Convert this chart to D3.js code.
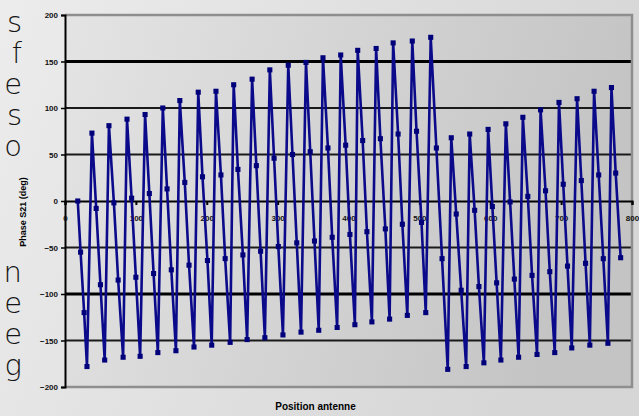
<!DOCTYPE html>
<html>
<head>
<meta charset="utf-8">
<script src="https://cdn.jsdelivr.net/npm/d3@7"></script>
<style>
  html, body { margin: 0; padding: 0; background: #e6e6e6; }
  svg { display: block; }
</style>
</head>
<body>
<div id="chart"></div>
<script>
// antenna position vs measured phase
const positions = [18, 22, 27, 31,
  38, 44, 50, 56,
  62, 69, 75, 82,
  87.5, 94, 100, 106,
  113, 119, 125, 131,
  138, 144, 150, 156.5,
  162, 169, 175, 182,
  188, 194, 201, 207,
  213, 220, 226, 233,
  238, 244, 251, 257,
  264, 270, 276, 282,
  289, 295, 301, 307.5,
  315, 321, 327, 333,
  340, 346, 352, 358,
  364, 371, 377, 384,
  389, 396, 402, 409,
  413, 420, 426, 433,
  439, 445, 452, 458,
  463, 470, 476, 483,
  490, 496, 503, 509,
  516, 524, 532, 540,
  545, 552, 559, 566,
  571, 578, 584, 591,
  597, 603, 609, 615,
  622, 628, 634, 640,
  646, 653, 659, 666,
  671, 678, 684, 691,
  697, 703, 709, 715,
  722.5, 728.5, 734.5, 740.5,
  746.5, 753, 759.5, 766,
  771, 777, 784];

const phases = [0, -55, -120, -178,
  73, -8, -90, -171,
  81, -2, -85, -168,
  88, 3, -82, -167,
  93, 8, -78, -163,
  100, 13, -74, -161,
  108, 20, -69, -157,
  117, 26, -64, -155,
  118, 28, -62, -152,
  125, 34, -58, -149,
  131, 38, -54, -147,
  141, 46, -49, -144,
  146, 50, -45, -141,
  149, 53, -43, -139,
  154, 57, -39, -136,
  157, 60, -36, -133,
  162, 65, -33, -130,
  164, 67, -30, -127,
  170, 72, -25, -123,
  172, 75, -23, -120,
  176, 57, -62, -181,
  68, -14, -96, -178,
  72, -10, -92, -174,
  77, -6, -88, -171,
  83, -1, -84, -168,
  90, 5, -80, -165,
  98, 11, -76, -163,
  106, 18, -70, -158,
  110, 22, -67, -155,
  118, 28, -62, -153,
  122, 30, -61];

const xTicks = [0, 100, 200, 300, 400, 500, 600, 700, 800];
const yTicks = [-200, -150, -100, -50, 0, 50, 100, 150, 200];

// ends of the slide text lines showing on the left
const sideLettersTop = ['s', 'f', 'e', 's', 'o'];
const sideLettersBottom = ['n', 'e', 'e', 'g'];

const svgWidth = 639, svgHeight = 416;
const margin = { top: 15, right: 7, bottom: 29, left: 65 };
const width = svgWidth - margin.left - margin.right,
  height = svgHeight - margin.top - margin.bottom;

const svg = d3.select('#chart').append('svg')
  .attr('width', svgWidth)
  .attr('height', svgHeight);

const defs = svg.append('defs');
const bgGrad = defs.append('linearGradient').attr('id', 'bgGrad')
  .attr('x1', '0%').attr('x2', '100%').attr('y1', '0%').attr('y2', '30%');
bgGrad.append('stop').attr('offset', '0%').attr('stop-color', '#ececec');
bgGrad.append('stop').attr('offset', '100%').attr('stop-color', '#d6d6d6');

const plotGrad = defs.append('linearGradient').attr('id', 'plotGrad')
  .attr('x1', '0%').attr('x2', '100%').attr('y1', '0%').attr('y2', '20%');
plotGrad.append('stop').attr('offset', '0%').attr('stop-color', '#e4e4e4');
plotGrad.append('stop').attr('offset', '100%').attr('stop-color', '#c4c4c4');

svg.append('rect')
  .attr('width', svgWidth)
  .attr('height', svgHeight)
  .attr('fill', 'url(#bgGrad)');

// side text, one text block per group
function sideBlock(letters, top, step) {
  const t = svg.append('text')
    .attr('font-family', 'DejaVu Sans, sans-serif')
    .attr('font-weight', 300)
    .attr('font-size', 29)
    .attr('fill', '#141414')
    .attr('text-anchor', 'end');
  t.selectAll('tspan')
    .data(letters)
    .enter().append('tspan')
    .attr('x', 22)
    .attr('y', (d, i) => top + i * step)
    .text(d => d);
}
sideBlock(sideLettersTop, 32, 31);
sideBlock(sideLettersBottom, 282, 31);

const x = d3.scaleLinear().domain([0, 800]).range([0, width]);
const y = d3.scaleLinear().domain([-200, 200]).range([height, 0]);

const g = svg.append('g')
  .attr('transform', 'translate(' + margin.left + ',' + margin.top + ')');

g.append('rect')
  .attr('width', width)
  .attr('height', height)
  .attr('fill', 'url(#plotGrad)');

// grid lines
g.append('g')
  .selectAll('line')
  .data(yTicks.filter(d => d !== 0 && Math.abs(d) !== 200))
  .enter().append('line')
  .attr('x1', 0)
  .attr('x2', width)
  .attr('y1', d => y(d))
  .attr('y2', d => y(d))
  .attr('stroke', d => (d === 150 || d === -100) ? '#000' : '#1a1a1a')
  .attr('stroke-width', d => (d === 150 || d === -100) ? 3 : 1.8);

// plot frame (top, right, bottom)
g.append('path')
  .attr('d', 'M0,0H' + width + 'V' + height + 'H0')
  .attr('fill', 'none')
  .attr('stroke', '#8e8e8e')
  .attr('stroke-width', 2.5);

// y axis
const yAxis = g.append('g')
  .call(d3.axisLeft(y).tickValues(yTicks).tickSize(4).tickFormat(d3.format('d')));
yAxis.select('.domain').attr('stroke', '#000').attr('stroke-width', 2);
yAxis.selectAll('.tick line').attr('stroke', '#000').attr('stroke-width', 1.5);
yAxis.selectAll('.tick text')
  .attr('x', -7)
  .attr('font-family', 'Liberation Sans, Arial, sans-serif')
  .attr('font-weight', 'bold')
  .attr('font-size', 8)
  .attr('fill', '#111');

// x axis along zero
const xAxis = g.append('g')
  .attr('transform', 'translate(0,' + y(0) + ')')
  .call(d3.axisBottom(x).tickValues(xTicks).tickSize(4).tickFormat(d3.format('d')));
xAxis.select('.domain').attr('stroke', '#000').attr('stroke-width', 2);
xAxis.selectAll('.tick line').attr('stroke', '#000').attr('stroke-width', 2);
xAxis.selectAll('.tick text')
  .attr('y', 14)
  .attr('font-family', 'Liberation Sans, Arial, sans-serif')
  .attr('font-weight', 'bold')
  .attr('font-size', 8)
  .attr('fill', '#111');

// series
const series = positions.map((p, i) => ({ pos: p, phase: phases[i] }));

const line = d3.line()
  .x(d => x(d.pos))
  .y(d => y(d.phase));

g.append('path')
  .datum(series)
  .attr('fill', 'none')
  .attr('stroke', '#0a0a8a')
  .attr('stroke-width', 2.6)
  .attr('d', line);

g.append('g')
  .selectAll('path')
  .data(series)
  .enter().append('path')
  .attr('transform', d => 'translate(' + x(d.pos) + ',' + y(d.phase) + ')')
  .attr('d', d3.symbol().type(d3.symbolSquare).size(26))
  .attr('fill', '#00007a');

// axis titles
svg.append('text')
  .attr('x', margin.left + x(400) - 33)
  .attr('y', 410)
  .attr('text-anchor', 'middle')
  .attr('font-family', 'Liberation Sans, Arial, sans-serif')
  .attr('font-weight', 'bold')
  .attr('font-size', 10)
  .attr('fill', '#000')
  .text('Position antenne');

svg.append('text')
  .attr('transform', 'translate(26,' + 212 + ') rotate(-90)')
  .attr('text-anchor', 'middle')
  .attr('font-family', 'Liberation Sans, Arial, sans-serif')
  .attr('font-weight', 'bold')
  .attr('font-size', 9)
  .attr('fill', '#000')
  .text('Phase S21 (deg)');
</script>
</body>
</html>
